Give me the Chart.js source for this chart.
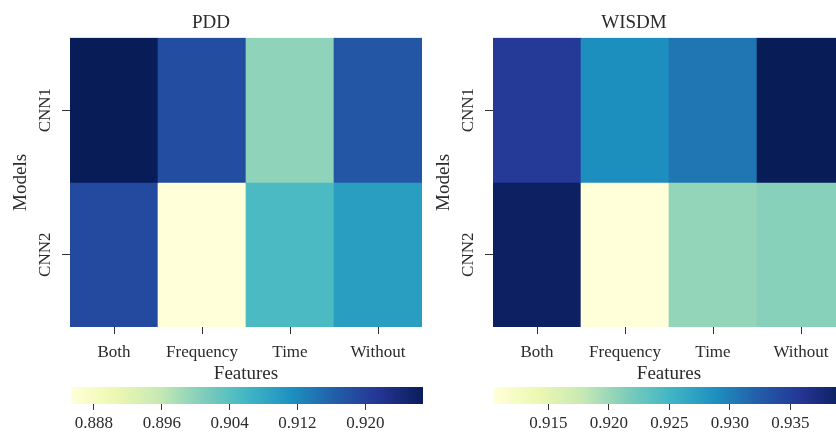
<!DOCTYPE html>
<html>
<head>
<meta charset="utf-8">
<script src="https://cdn.jsdelivr.net/npm/chart.js@4.4.0/dist/chart.umd.min.js"></script>
<style>
  html, body { margin: 0; padding: 0; background: #fff; width: 836px; height: 437px; overflow: hidden; }
  .wrap { position: absolute; }
</style>
</head>
<body>
<div class="wrap" id="w0" style="left:0px;top:0px;"><canvas id="hm0" width="440" height="385"></canvas></div>
<div class="wrap" id="w1" style="left:423px;top:0px;"><canvas id="hm1" width="440" height="385"></canvas></div>
<div class="wrap" id="c0w" style="left:0px;top:382px;"><canvas id="cb0" width="440" height="55"></canvas></div>
<div class="wrap" id="c1w" style="left:423px;top:382px;"><canvas id="cb1" width="440" height="55"></canvas></div>
<script>
// ---- data ----
const features = ['Both', 'Frequency', 'Time', 'Without'];
const models = ['CNN1', 'CNN2'];
const titles = ['PDD', 'WISDM'];

const pddCNN1 = [0.9268, 0.9185, 0.8998, 0.9173];
const pddCNN2 = [0.9189, 0.8853, 0.9052, 0.9094];
const wisdmCNN1 = [0.9355, 0.9288, 0.9306, 0.9396];
const wisdmCNN2 = [0.9390, 0.9105, 0.9204, 0.9210];

const pddTicks = [0.888, 0.896, 0.904, 0.912, 0.920];
const wisdmTicks = [0.915, 0.920, 0.925, 0.930, 0.935];

// YlGnBu colormap stops
const ylgnbu = ['#ffffd9', '#edf8b1', '#c7e9b4', '#7fcdbb', '#41b6c4', '#1d91c0', '#225ea8', '#253494', '#081d58'];

function hexToRgb(h) {
  return [parseInt(h.slice(1, 3), 16), parseInt(h.slice(3, 5), 16), parseInt(h.slice(5, 7), 16)];
}
const stopsRgb = ylgnbu.map(hexToRgb);
function cmap(t) {
  t = Math.max(0, Math.min(1, t));
  const p = t * (stopsRgb.length - 1);
  const i = Math.min(Math.floor(p), stopsRgb.length - 2);
  const f = p - i;
  const a = stopsRgb[i], b = stopsRgb[i + 1];
  const c = a.map((v, k) => Math.round(v + (b[k] - v) * f));
  return `rgb(${c[0]},${c[1]},${c[2]})`;
}

const FONT = "'Liberation Serif', 'Times New Roman', serif";
const TXT = '#2b2b2b';
Chart.defaults.font.family = FONT;
Chart.defaults.color = TXT;
Chart.defaults.animation = false;

function heatmap(id, title, row1, row2) {
  const all = row1.concat(row2);
  const vmin = Math.min(...all), vmax = Math.max(...all);
  const col = v => cmap((v - vmin) / (vmax - vmin));
  new Chart(document.getElementById(id), {
    type: 'bar',
    data: {
      labels: features,
      datasets: [
        { label: models[0], data: row1.map(() => [1, 2]), backgroundColor: row1.map(col), borderWidth: 0,
          barPercentage: 1, categoryPercentage: 1, grouped: false },
        { label: models[1], data: row2.map(() => [0, 1]), backgroundColor: row2.map(col), borderWidth: 0,
          barPercentage: 1, categoryPercentage: 1, grouped: false }
      ]
    },
    options: {
      responsive: false,
      animation: false,
      layout: { padding: { left: 0, right: 18, top: 0, bottom: 0 } },
      plugins: {
        legend: { display: false },
        tooltip: { enabled: false },
        title: { display: true, text: title, font: { size: 19, weight: 'normal' }, color: TXT,
                 padding: { top: 12, bottom: 3 } }
      },
      scales: {
        x: {
          type: 'category',
          offset: true,
          grid: { display: true, drawOnChartArea: false, drawTicks: true, tickLength: 7, color: '#333', offset: false },
          border: { display: false },
          ticks: { font: { size: 17 }, color: TXT, padding: 8, maxRotation: 0 },
          title: { display: true, text: 'Features', font: { size: 19 }, color: TXT, padding: { top: 0, bottom: 0 } },
          afterFit: s => { s.height = 58; }
        },
        y: {
          type: 'linear',
          min: 0, max: 2,
          grid: { display: true, drawOnChartArea: false, drawTicks: true, tickLength: 8, color: '#333' },
          border: { display: false },
          afterBuildTicks: s => { s.ticks = models.map((m, i) => ({ value: models.length - i - 0.5 })); },
          ticks: {
            font: { size: 17 }, color: TXT, minRotation: 90, maxRotation: 90, crossAlign: 'center', padding: -6,
            callback: v => models[models.length - 1 - Math.floor(v)]
          },
          title: { display: true, text: 'Models', font: { size: 19 }, color: TXT, padding: { top: 10, bottom: 0 } },
          afterFit: s => { s.width = 70; }
        }
      }
    }
  });
}

function colorbar(id, row1, row2, ticks) {
  const all = row1.concat(row2);
  const vmin = Math.min(...all), vmax = Math.max(...all);
  new Chart(document.getElementById(id), {
    type: 'bar',
    data: {
      labels: [''],
      datasets: [{
        data: [[vmin, vmax]],
        borderWidth: 0,
        barPercentage: 1, categoryPercentage: 1,
        backgroundColor: ctx => {
          const ca = ctx.chart.chartArea;
          if (!ca) return ylgnbu[4];
          const g = ctx.chart.ctx.createLinearGradient(ca.left, 0, ca.right, 0);
          for (let i = 0; i <= 64; i++) g.addColorStop(i / 64, cmap(i / 64));
          return g;
        }
      }]
    },
    options: {
      indexAxis: 'y',
      responsive: false,
      animation: false,
      layout: { padding: { left: 71, right: 17, top: 5, bottom: 0 } },
      plugins: { legend: { display: false }, tooltip: { enabled: false } },
      scales: {
        y: { display: false },
        x: {
          type: 'linear', min: vmin, max: vmax,
          grid: { display: true, drawOnChartArea: false, drawTicks: true, tickLength: 6, color: '#333' },
          border: { display: false },
          afterBuildTicks: s => { s.ticks = ticks.map(v => ({ value: v })); },
          ticks: { font: { size: 17 }, color: TXT, padding: 3, maxRotation: 0, callback: v => v.toFixed(3) },
          afterFit: s => { s.height = 33; }
        }
      }
    }
  });
}

heatmap('hm0', titles[0], pddCNN1, pddCNN2);
heatmap('hm1', titles[1], wisdmCNN1, wisdmCNN2);
colorbar('cb0', pddCNN1, pddCNN2, pddTicks);
colorbar('cb1', wisdmCNN1, wisdmCNN2, wisdmTicks);
</script>
</body>
</html>
